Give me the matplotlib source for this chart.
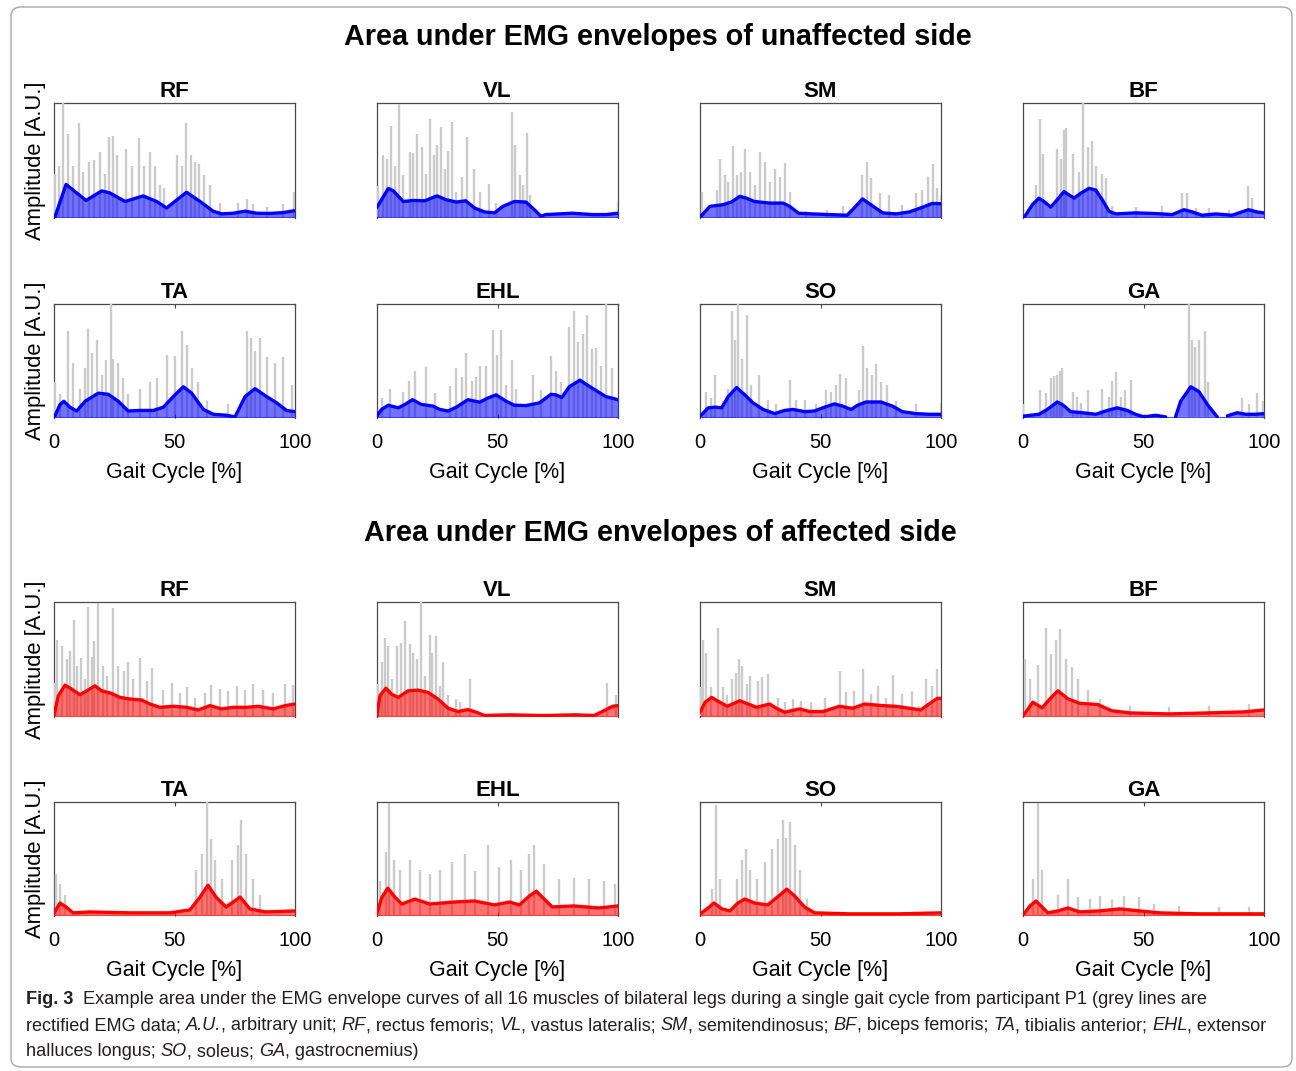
import numpy as np
import matplotlib
matplotlib.use("Agg")
import matplotlib.pyplot as plt
from matplotlib.patches import FancyBboxPatch
from matplotlib import font_manager

nan = np.nan

# ---------------- unaffected side ----------------
u_rf_env_x = [0.4, 5, 13.3, 19.8, 23.2, 29.5, 37, 42.6, 46.7, 55, 60.6, 66, 69.6, 74.4, 79.3, 84, 89.6, 95, 100]
u_rf_env_y = [0.0, 0.285, 0.144, 0.228, 0.21, 0.135, 0.184, 0.135, 0.078, 0.216, 0.135, 0.05, 0.026, 0.032, 0.05, 0.032, 0.03, 0.037, 0.055]
u_rf_spk_x = [0.4, 2.2, 3.6, 5.9, 8, 10.5, 12.2, 14.7, 16.6, 19, 21.2, 23, 24.6, 26.3, 29.9, 32.2, 35.4, 37.3, 39.8,
              41.9, 44, 45.6, 50.9, 53, 54.8, 56.7, 58.5, 60.3, 62.2, 64.7, 68.9, 76.5, 80, 82.7, 88.2, 95, 99.6]
u_rf_spk_y = [0.38, 0.45, 1.0, 0.73, 0.45, 0.82, 0.39, 0.48, 0.5, 0.57, 0.38, 0.7, 0.71, 0.54, 0.6, 0.45, 0.69, 0.45, 0.57,
              0.45, 0.28, 0.25, 0.54, 0.45, 0.82, 0.54, 0.48, 0.46, 0.37, 0.28, 0.12, 0.12, 0.16, 0.11, 0.09, 0.11, 0.22]

u_vl_env_x = [0, 4.7, 6.7, 10.9, 15, 19.8, 24.9, 28.8, 32.9, 36.8, 40.5, 44.6, 48.8, 52.2, 57, 61.8, 65.3, 68, 70, 81, 89.4, 95, 100]
u_vl_env_y = [0.084, 0.25, 0.23, 0.135, 0.144, 0.141, 0.184, 0.15, 0.13, 0.141, 0.078, 0.043, 0.035, 0.092, 0.135, 0.13, 0.063, 0.006, 0.02, 0.032, 0.02, 0.02, 0.032]
u_vl_spk_x = [0.5, 2.3, 4, 6, 7.4, 9.2, 10.9, 13.6, 15, 16.7, 18.5, 20.2, 21.9, 23.6, 24.9, 26.4, 28.1, 29.6, 31.3, 32.9,
              35.4, 37.3, 40.1, 42.8, 46.4, 49.4, 56.1, 57.4, 59.4, 60.5, 62.1, 63.5, 100]
u_vl_spk_y = [0.27, 0.54, 0.51, 0.8, 0.45, 0.99, 0.37, 0.57, 0.56, 0.73, 0.61, 0.38, 0.86, 0.54, 0.63, 0.79, 0.42, 0.58, 0.83, 0.22,
              0.35, 0.7, 0.42, 0.22, 0.29, 0.12, 0.92, 0.63, 0.37, 0.28, 0.74, 0.19, 0.13]

u_sm_env_x = [0.4, 4.1, 9.6, 13, 16.5, 19.3, 22.6, 28.9, 34.4, 37.2, 40.9, 46.4, 53.7, 61, 64, 67.4, 70.9, 75.8, 81.3, 86.8, 92.3, 96.4, 100]
u_sm_env_y = [0.006, 0.092, 0.107, 0.13, 0.18, 0.164, 0.135, 0.121, 0.121, 0.092, 0.032, 0.026, 0.02, 0.014, 0.078, 0.158, 0.107, 0.035, 0.026, 0.043, 0.084, 0.118, 0.115]
u_sm_spk_x = [0.7, 6.9, 8.5, 10.3, 11.7, 13.8, 15.4, 17.2, 18.6, 20.7, 22.7, 25.1, 26.9, 28.9, 31, 33.1, 35.1, 37.2, 44.1,
              52.5, 59.2, 67.4, 69.1, 70.9, 74.7, 78.5, 84, 89.5, 92.3, 94.8, 96.7, 98.5, 100]
u_sm_spk_y = [0.22, 0.24, 0.51, 0.37, 0.31, 0.62, 0.37, 0.39, 0.6, 0.39, 0.28, 0.57, 0.48, 0.31, 0.42, 0.35, 0.47, 0.22, 0.05,
              0.063, 0.092, 0.37, 0.48, 0.34, 0.21, 0.19, 0.107, 0.21, 0.24, 0.35, 0.46, 0.25, 0.19]

u_bf_env_x = [0.8, 3.9, 6.6, 8.7, 11.5, 14.2, 17, 21.2, 23.9, 27.4, 30.2, 32.9, 35.7, 38.5, 46.8, 55.1, 61.9, 66.8, 70.3, 74.3, 80, 86.7, 93.6, 97.1, 100]
u_bf_env_y = [0.006, 0.107, 0.164, 0.135, 0.086, 0.15, 0.222, 0.164, 0.207, 0.25, 0.236, 0.15, 0.049, 0.026, 0.035, 0.029, 0.02, 0.063, 0.043, 0.014, 0.026, 0.014, 0.063, 0.043, 0.035]
u_bf_spk_x = [5.3, 7.1, 8.3, 14.2, 15.6, 17, 18, 20.9, 23.2, 24.9, 27, 28.8, 30.4, 32.6, 34.3, 37.1, 46.8, 57.8, 65.8,
              68.2, 71.6, 77.2, 85.5, 93.5, 95.2]
u_bf_spk_y = [0.28, 0.86, 0.55, 0.6, 0.51, 0.76, 0.78, 0.55, 0.39, 1.0, 0.61, 0.67, 0.45, 0.38, 0.34, 0.092, 0.084, 0.092, 0.21,
              0.21, 0.078, 0.078, 0.063, 0.27, 0.164]

u_ta_env_x = [0.4, 2.5, 4.1, 6.6, 9.4, 12.9, 18.4, 22.5, 26.7, 30.8, 35.7, 41.2, 45.4, 49.5, 53.7, 57.1, 62, 66.1, 71.7, 75.1,
              79.3, 83.4, 88.2, 92.4, 96.5, 100]
u_ta_env_y = [0.009, 0.11, 0.138, 0.086, 0.052, 0.138, 0.21, 0.2, 0.138, 0.052, 0.057, 0.057, 0.086, 0.18, 0.267, 0.21, 0.066, 0.023, 0.014, 0.0,
              0.18, 0.25, 0.18, 0.124, 0.057, 0.046]
u_ta_spk_x = [0.4, 2.5, 5.9, 7.7, 10.8, 12.9, 14.2, 15.6, 17.7, 19.8, 21.6, 23.5, 24.6, 26.7, 28.8, 30.8, 35.7, 39.8, 42.6,
              46.7, 50.2, 53, 55, 57.1, 59.9, 63.3, 72.3, 79.9, 81.6, 83.4, 85.5, 88.2, 91.7, 95.2, 98.6]
u_ta_spk_y = [0.31, 0.2, 0.76, 0.48, 0.25, 0.43, 0.78, 0.57, 0.68, 0.37, 0.5, 1.0, 0.51, 0.48, 0.34, 0.2, 0.25, 0.31, 0.34,
              0.55, 0.54, 0.76, 0.64, 0.43, 0.31, 0.138, 0.11, 0.76, 0.7, 0.58, 0.7, 0.53, 0.48, 0.53, 0.28]

u_ehl_env_x = [0, 1.9, 4.7, 8.8, 11.6, 14.7, 18.5, 23.3, 26, 29.5, 32.9, 37.7, 42.6, 46, 49.4, 53.6, 57, 61.8, 67.4, 72.2,
               74.2, 76.7, 79.8, 84.2, 89.4, 94.9, 100]
u_ehl_env_y = [0.009, 0.066, 0.103, 0.08, 0.11, 0.152, 0.11, 0.095, 0.066, 0.052, 0.086, 0.152, 0.13, 0.167, 0.195, 0.138, 0.103, 0.1, 0.124, 0.2,
               0.195, 0.172, 0.267, 0.325, 0.253, 0.18, 0.152]
u_ehl_spk_x = [1.9, 5.4, 10.9, 13.4, 15.7, 20.2, 24, 30.4, 32.9, 35.4, 37.1, 39.5, 41.2, 42.8, 45.3, 48, 49.7, 51.5, 53.6,
               56.1, 57.7, 64.6, 68, 72.2, 74.2, 76.3, 79.8, 81.8, 83.6, 85.5, 87.3, 89.4, 91, 92.8, 95.2, 97.7]
u_ehl_spk_y = [0.17, 0.25, 0.22, 0.32, 0.41, 0.44, 0.21, 0.27, 0.43, 0.35, 0.57, 0.32, 0.35, 0.45, 0.45, 0.77, 0.55, 0.77, 0.28,
               0.5, 0.25, 0.37, 0.24, 0.54, 0.41, 0.31, 0.8, 0.94, 0.66, 0.73, 0.9, 0.6, 0.61, 0.45, 1.0, 0.43]

u_so_env_x = [0.4, 3.4, 6.2, 9, 11.7, 15.2, 18.6, 22, 26.2, 31, 35.1, 38.6, 43.4, 47.5, 51.7, 55.8, 59.2, 62.7, 65.4, 68.9,
              75.1, 79.9, 84, 89.5, 95, 100]
u_so_env_y = [0.014, 0.08, 0.086, 0.08, 0.18, 0.26, 0.195, 0.124, 0.066, 0.029, 0.057, 0.066, 0.046, 0.052, 0.086, 0.115, 0.095, 0.066, 0.103, 0.132,
              0.132, 0.095, 0.046, 0.029, 0.023, 0.023]
u_so_spk_x = [2.5, 4.4, 6.2, 9.6, 11.7, 13.1, 14.5, 15.8, 17.6, 19.6, 21.3, 24.5, 28.2, 31.7, 37.5, 40, 43.4, 48.2, 52.3,
              54.4, 56.5, 57.9, 60.6, 65.8, 67.5, 69.1, 71.3, 73, 75.1, 77.8, 81.3, 89.5, 100]
u_so_spk_y = [0.22, 0.17, 0.37, 0.138, 0.25, 0.94, 0.68, 1.0, 0.51, 0.9, 0.28, 0.37, 0.152, 0.11, 0.325, 0.152, 0.152, 0.11, 0.24,
              0.22, 0.28, 0.38, 0.34, 0.24, 0.63, 0.43, 0.37, 0.47, 0.31, 0.28, 0.138, 0.11, 0.124]

u_ga_env_x = [0, 6.6, 10.1, 14.2, 16.3, 19.8, 24.6, 30.2, 35, 39.1, 43.3, 46.7, 50.2, 55, 59.2, 61,
              63.3, 65.4, 69.6, 73, 76.5, 80.6, 82.5, 84.8, 88.9, 92.4, 96.5, 100]
u_ga_env_y = [0.006, 0.023, 0.066, 0.132, 0.11, 0.046, 0.037, 0.023, 0.057, 0.08, 0.057, 0.023, 0.0, 0.014, 0.0, nan,
              0.0, 0.138, 0.267, 0.224, 0.11, 0.0, nan, 0.009, 0.037, 0.023, 0.023, 0.029]
u_ga_spk_x = [0, 6.9, 9.4, 11.5, 12.9, 14.2, 15.2, 16.3, 20.7, 22.5, 23.9, 27.1, 32.9, 35.7, 37.1, 38.7, 40.5, 42.4, 44.7,
              68.9, 70, 71.4, 73, 75.5, 76.9, 90.7, 93.8, 97.2, 99.6]
u_ga_spk_y = [0.11, 0.24, 0.21, 0.34, 0.36, 0.37, 0.41, 0.43, 0.22, 0.18, 0.124, 0.24, 0.25, 0.18, 0.32, 0.4, 0.18, 0.24, 0.33,
              1.0, 0.68, 0.62, 0.68, 0.76, 0.31, 0.17, 0.11, 0.21, 0.14]

# ---------------- affected side ----------------
a_rf_env_x = [0, 1.8, 4.6, 7.3, 10.8, 13.6, 17, 19.8, 23.9, 27.4, 31.5, 36.4, 39.8, 44, 49.5, 55, 59.9, 64.7, 69.6, 74.4,
              79.9, 84.8, 91, 95.9, 100]
a_rf_env_y = [0.009, 0.177, 0.27, 0.235, 0.186, 0.22, 0.264, 0.22, 0.197, 0.162, 0.148, 0.139, 0.104, 0.075, 0.084, 0.075, 0.052, 0.09, 0.061, 0.075,
              0.075, 0.084, 0.061, 0.09, 0.104]
a_rf_spk_x = [0.4, 1.4, 3.2, 5.3, 6.6, 8.3, 9.7, 11.1, 12.9, 14.2, 15.6, 16.7, 18.4, 20.5, 22.1, 24.6, 26.7, 29, 30.8, 32.6,
              35.7, 38.5, 40.5, 45.4, 48.8, 52.3, 55, 58.5, 62.5, 65, 68.9, 72.3, 75.8, 79.3, 82.7, 86.9, 91, 95.9, 99.3]
a_rf_spk_y = [0.29, 0.67, 0.61, 0.5, 0.57, 0.84, 0.44, 0.51, 0.32, 0.96, 0.52, 0.66, 0.99, 0.44, 0.35, 0.95, 0.44, 0.39, 0.47, 0.32,
              0.51, 0.31, 0.42, 0.23, 0.29, 0.2, 0.25, 0.16, 0.2, 0.27, 0.24, 0.22, 0.26, 0.23, 0.28, 0.23, 0.2, 0.28, 0.27]

a_vl_env_x = [0, 1.2, 3.7, 6.1, 8.8, 12.9, 17.1, 21.2, 25.3, 29.5, 33.6, 37.7, 41.2, 44.6, 55, 68.7, 82.5, 90.1, 93.5, 97.7, 100]
a_vl_env_y = [0.003, 0.177, 0.243, 0.19, 0.162, 0.22, 0.226, 0.206, 0.148, 0.067, 0.038, 0.055, 0.032, 0.003, 0.009, 0.003, 0.009, 0.003, 0.038, 0.084, 0.09]
a_vl_spk_x = [0.6, 1.9, 3.3, 4.7, 6.1, 8.1, 10.1, 11.8, 13.6, 15, 16.7, 18.2, 19.8, 21.9, 23, 24.4, 26, 27.4, 29.5, 32.9,
              34.3, 38.4, 95.6, 99]
a_vl_spk_y = [0.28, 0.47, 0.68, 0.61, 0.32, 0.61, 0.64, 0.83, 0.63, 0.55, 0.5, 1.0, 0.35, 0.71, 0.55, 0.7, 0.26, 0.47, 0.18, 0.15,
              0.12, 0.32, 0.29, 0.18]

a_sm_env_x = [0, 2.1, 4.8, 8.3, 11.3, 16.5, 20, 23.4, 28.9, 31.7, 35.1, 41.3, 45.5, 51, 57.9, 63.4, 68.2, 75.8, 81.3, 86.8,
              91.6, 95, 98.5, 100]
a_sm_env_y = [0.032, 0.119, 0.162, 0.119, 0.084, 0.133, 0.104, 0.075, 0.104, 0.067, 0.032, 0.061, 0.038, 0.038, 0.084, 0.067, 0.104, 0.09, 0.084, 0.067,
              0.052, 0.104, 0.154, 0.154]
a_sm_spk_x = [0.4, 1.4, 2.5, 4.4, 7.3, 9.4, 11.3, 13.1, 14.9, 16.1, 17.6, 19.3, 20.9, 24.1, 25.9, 28.4, 32.4, 35.1, 38.6,
              42, 46.1, 51.7, 58.1, 60.6, 64, 67.5, 70.9, 73.7, 77.1, 80.2, 84, 87.9, 90.9, 93.7, 96.1, 98.5]
a_sm_spk_y = [0.25, 0.67, 0.55, 0.25, 0.77, 0.25, 0.18, 0.32, 0.38, 0.5, 0.44, 0.28, 0.35, 0.31, 0.34, 0.37, 0.16, 0.12, 0.148,
              0.133, 0.125, 0.154, 0.39, 0.206, 0.22, 0.41, 0.19, 0.26, 0.16, 0.36, 0.19, 0.22, 0.09, 0.32, 0.26, 0.41]

a_bf_env_x = [0.4, 4.1, 7.9, 11.2, 14.5, 18.6, 23.6, 31, 36.8, 44.2, 60.7, 77.3, 91.7, 100]
a_bf_env_y = [0.01, 0.12, 0.07, 0.15, 0.22, 0.15, 0.11, 0.1, 0.045, 0.026, 0.017, 0.026, 0.035, 0.052]
a_bf_spk_x = [0.8, 2.9, 6.2, 9.5, 11.6, 13.6, 15.3, 17.8, 20.2, 22.7, 26.9, 31.8, 44.2, 60.7, 77.3, 93.8]
a_bf_spk_y = [0.5, 0.32, 0.45, 0.77, 0.54, 0.67, 0.76, 0.5, 0.43, 0.32, 0.23, 0.15, 0.09, 0.08, 0.09, 0.1]

a_ta_env_x = [0, 2.5, 5, 7.9, 14.9, 31.5, 48.1, 56.4, 60.6, 63.9, 67.2, 71.4, 77.2, 81.3, 87.6, 100]
a_ta_env_y = [0.018, 0.105, 0.07, 0.018, 0.026, 0.018, 0.018, 0.044, 0.158, 0.263, 0.158, 0.07, 0.158, 0.053, 0.026, 0.035]
a_ta_spk_x = [0.8, 2.5, 4.6, 58.9, 61.4, 63.5, 65.1, 66.8, 69.7, 73.9, 76.3, 77.6, 79.7, 82.6, 85.5]
a_ta_spk_y = [0.36, 0.27, 0.18, 0.4, 0.54, 1.0, 0.67, 0.49, 0.32, 0.49, 0.62, 0.84, 0.54, 0.32, 0.18]

a_ehl_env_x = [0, 2.1, 4.5, 7.4, 10.3, 15.7, 21.9, 32.2, 40.5, 48.8, 55, 59.1, 63.2, 66.1, 69.4, 72.7, 81.8, 92.1, 100]
a_ehl_env_y = [0.018, 0.158, 0.237, 0.158, 0.096, 0.14, 0.096, 0.114, 0.123, 0.088, 0.114, 0.088, 0.167, 0.21, 0.14, 0.07, 0.079, 0.061, 0.079]
a_ehl_spk_x = [1.2, 3.7, 5, 7, 9.5, 13.6, 17.8, 21.9, 26, 31, 36.4, 40.5, 45.9, 50.8, 55.8, 59.9, 63.2, 65.3, 69.4, 75.6,
               81.8, 88, 94.2, 98.8]
a_ehl_spk_y = [0.3, 0.56, 0.99, 0.49, 0.4, 0.49, 0.4, 0.36, 0.4, 0.47, 0.54, 0.39, 0.62, 0.42, 0.49, 0.4, 0.54, 0.62, 0.45, 0.32,
               0.33, 0.32, 0.3, 0.27]

a_so_env_x = [0, 2.9, 5.8, 9.1, 12.4, 15.7, 18.6, 22.7, 28.1, 33.1, 36, 39.3, 43.4, 47.5, 62, 82.6, 100]
a_so_env_y = [0.009, 0.053, 0.105, 0.053, 0.035, 0.105, 0.14, 0.105, 0.088, 0.175, 0.228, 0.167, 0.07, 0.018, 0.009, 0.009, 0.018]
a_so_spk_x = [5, 6.6, 8.3, 15.3, 17.4, 19, 20.7, 23.6, 26.9, 29.8, 32.2, 34.3, 35.5, 37.2, 39.3, 41.3, 44.6]
a_so_spk_y = [0.23, 0.97, 0.32, 0.32, 0.49, 0.58, 0.4, 0.32, 0.47, 0.58, 0.67, 0.84, 0.68, 0.82, 0.62, 0.4, 0.14]

a_ga_env_x = [0.4, 2.9, 5.4, 7.9, 10.3, 14.5, 18.6, 23.6, 31.8, 40.1, 48.3, 56.6, 73.1, 100]
a_ga_env_y = [0.009, 0.079, 0.123, 0.07, 0.018, 0.035, 0.061, 0.026, 0.035, 0.053, 0.035, 0.018, 0.009, 0.009]
a_ga_spk_x = [4.1, 6.2, 7.9, 14.5, 18.6, 22.7, 27.7, 31.8, 36.8, 42.1, 48.3, 54.5, 64.9, 81.4, 93.8]
a_ga_spk_y = [0.32, 0.99, 0.4, 0.18, 0.32, 0.16, 0.14, 0.17, 0.14, 0.17, 0.16, 0.1, 0.08, 0.07, 0.07]

x_ticks = [0, 50, 100]

section_titles = ["Area under EMG envelopes of unaffected side",
                  "Area under EMG envelopes of affected side"]

caption_lines = [
    [("Fig. 3", "bold"), ("  Example area under the EMG envelope curves of all 16 muscles of bilateral legs during a single gait cycle from participant P1 (grey lines are", "normal")],
    [("rectified EMG data; ", "normal"), ("A.U.", "italic"), (", arbitrary unit; ", "normal"), ("RF", "italic"),
     (", rectus femoris; ", "normal"), ("VL", "italic"), (", vastus lateralis; ", "normal"), ("SM", "italic"),
     (", semitendinosus; ", "normal"), ("BF", "italic"), (", biceps femoris; ", "normal"), ("TA", "italic"),
     (", tibialis anterior; ", "normal"), ("EHL", "italic"), (", extensor", "normal")],
    [("halluces longus; ", "normal"), ("SO", "italic"), (", soleus; ", "normal"), ("GA", "italic"),
     (", gastrocnemius)", "normal")],
]

panels_u = [
    ("RF", u_rf_env_x, u_rf_env_y, u_rf_spk_x, u_rf_spk_y),
    ("VL", u_vl_env_x, u_vl_env_y, u_vl_spk_x, u_vl_spk_y),
    ("SM", u_sm_env_x, u_sm_env_y, u_sm_spk_x, u_sm_spk_y),
    ("BF", u_bf_env_x, u_bf_env_y, u_bf_spk_x, u_bf_spk_y),
    ("TA", u_ta_env_x, u_ta_env_y, u_ta_spk_x, u_ta_spk_y),
    ("EHL", u_ehl_env_x, u_ehl_env_y, u_ehl_spk_x, u_ehl_spk_y),
    ("SO", u_so_env_x, u_so_env_y, u_so_spk_x, u_so_spk_y),
    ("GA", u_ga_env_x, u_ga_env_y, u_ga_spk_x, u_ga_spk_y),
]
panels_a = [
    ("RF", a_rf_env_x, a_rf_env_y, a_rf_spk_x, a_rf_spk_y),
    ("VL", a_vl_env_x, a_vl_env_y, a_vl_spk_x, a_vl_spk_y),
    ("SM", a_sm_env_x, a_sm_env_y, a_sm_spk_x, a_sm_spk_y),
    ("BF", a_bf_env_x, a_bf_env_y, a_bf_spk_x, a_bf_spk_y),
    ("TA", a_ta_env_x, a_ta_env_y, a_ta_spk_x, a_ta_spk_y),
    ("EHL", a_ehl_env_x, a_ehl_env_y, a_ehl_spk_x, a_ehl_spk_y),
    ("SO", a_so_env_x, a_so_env_y, a_so_spk_x, a_so_spk_y),
    ("GA", a_ga_env_x, a_ga_env_y, a_ga_spk_x, a_ga_spk_y),
]

plt.rcParams["font.family"] = ["Liberation Sans", "DejaVu Sans"]

W, H = 1296, 1071
fig = plt.figure(figsize=(W / 100, H / 100), dpi=100)

# rounded frame around everything (drawn behind the axes)
frame = FancyBboxPatch((11 / W, 4 / H), 1281 / W, 1060 / H, boxstyle="round,pad=0,rounding_size=0.008",
                       transform=fig.transFigure, facecolor="none", edgecolor="#a8a8a8", lw=1.0, zorder=-5)
fig.patches.append(frame)

col_left = [54, 377, 700, 1023]
ax_w = 241
row_top = [103, 304, 602, 802]
ax_h = [115, 114, 115, 114]


def draw_panel(ax, name, ex, ey, sx, sy, color, show_x, show_y):
    ax.patch.set_alpha(0)
    ax.vlines(sx, 0, sy, color="#cbcbcb", lw=1.7, zorder=1)
    ex = np.array(ex, dtype=float)
    ey = np.array(ey, dtype=float)
    ax.fill_between(ex, 0, ey, color=color, alpha=0.55, lw=0, zorder=2)
    ax.plot(ex, ey, color=color, lw=2.4, zorder=3, solid_joinstyle="round", solid_capstyle="round")
    ax.plot([0, 100], [0, 0], color=color, lw=0.8, alpha=0.7, zorder=2)
    ax.set_xlim(0, 100)
    ax.set_ylim(-0.01, 1.0)
    ax.set_yticks([])
    ax.spines["bottom"].set_visible(False)
    for s in ["left", "top", "right"]:
        ax.spines[s].set_color("#4a4a4a")
        ax.spines[s].set_linewidth(0.9)
        ax.spines[s].set_zorder(0.5)
    ax.set_title(name, fontsize=16, fontweight="bold", pad=4)
    if show_x:
        ax.set_xticks(x_ticks)
        ax.tick_params(axis="x", direction="in", top=True, length=3, width=0.8, color="#4a4a4a",
                       labelsize=14.5, pad=11)
        ax.set_xlabel("Gait Cycle [%]", fontsize=15.5, labelpad=7)
    else:
        ax.set_xticks([])
    if show_y:
        ax.set_ylabel("Amplitude [A.U.]", fontsize=15.8, labelpad=6)


for block, panels, color in [(0, panels_u, "#0000ff"), (1, panels_a, "#ff0000")]:
    for i, (name, ex, ey, sx, sy) in enumerate(panels):
        r = block * 2 + i // 4
        c = i % 4
        top = row_top[r]
        h = ax_h[r]
        ax = fig.add_axes([col_left[c] / W, 1 - (top + h) / H, ax_w / W, h / H])
        draw_panel(ax, name, ex, ey, sx, sy, color, show_x=(r % 2 == 1), show_y=(c == 0))

fig.text(658 / W, 1 - 37 / H, section_titles[0], ha="center", va="center", fontsize=20.7, fontweight="bold")
fig.text(660 / W, 1 - 533 / H, section_titles[1], ha="center", va="center", fontsize=20.7, fontweight="bold")

# caption with mixed bold / italic pieces
names = {f.name for f in font_manager.fontManager.ttflist}
cap_font = "Liberation Sans Narrow" if "Liberation Sans Narrow" in names else "Liberation Sans"
renderer = fig.canvas.get_renderer()


def text_width(s, size, style):
    kw = dict(fontsize=size, family=cap_font)
    if style == "bold":
        kw["fontweight"] = "bold"
    if style == "italic":
        kw["fontstyle"] = "italic"
    t1 = fig.text(0, 0, s + "|", **kw)
    t2 = fig.text(0, 0, "|", **kw)
    w = t1.get_window_extent(renderer).width - t2.get_window_extent(renderer).width
    t1.remove()
    t2.remove()
    return w


base = 12
line2_w = sum(text_width(s, base, st) for s, st in caption_lines[1])
cap_size = base * 1247 / line2_w
cap_y = [999, 1026, 1052]
for line, yy in zip(caption_lines, cap_y):
    x = 26
    for s, st in line:
        kw = dict(fontsize=cap_size, family=cap_font, va="center", ha="left", color="#231f20")
        if st == "bold":
            kw["fontweight"] = "bold"
        if st == "italic":
            kw["fontstyle"] = "italic"
        fig.text(x / W, 1 - yy / H, s, **kw)
        x += text_width(s, cap_size, st)

fig.savefig("out.png", dpi=100)
